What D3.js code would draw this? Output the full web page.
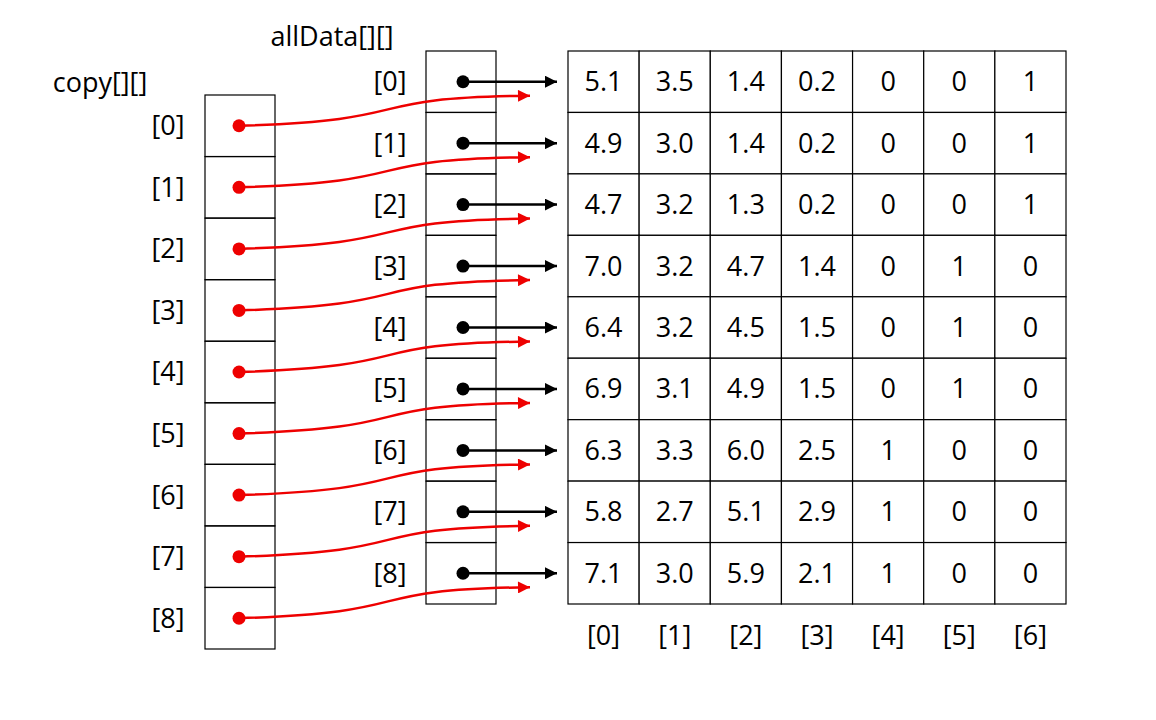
<!DOCTYPE html>
<html><head><meta charset="utf-8">
<script src="https://cdn.jsdelivr.net/npm/d3@7"></script>
<style>body{margin:0;background:#fff}svg{display:block}text{font-family:"Open Sans","Liberation Sans",Arial,sans-serif}</style>
</head><body><svg id="c" width="1156" height="720"></svg>
<script>
const rowLabels = ["[0]","[1]","[2]","[3]","[4]","[5]","[6]","[7]","[8]"];
const colLabels = ["[0]","[1]","[2]","[3]","[4]","[5]","[6]"];
const values = [
 ["5.1","3.5","1.4","0.2","0","0","1"],
 ["4.9","3.0","1.4","0.2","0","0","1"],
 ["4.7","3.2","1.3","0.2","0","0","1"],
 ["7.0","3.2","4.7","1.4","0","1","0"],
 ["6.4","3.2","4.5","1.5","0","1","0"],
 ["6.9","3.1","4.9","1.5","0","1","0"],
 ["6.3","3.3","6.0","2.5","1","0","0"],
 ["5.8","2.7","5.1","2.9","1","0","0"],
 ["7.1","3.0","5.9","2.1","1","0","0"]
];
const svg = d3.select("#c");
const defs = svg.append("defs");
[["ab","#000"],["ar","#e00"]].forEach(([id,c])=>{
  defs.append("marker").attr("id",id).attr("viewBox","0 0 10 10").attr("refX",10).attr("refY",5)
   .attr("markerWidth",16).attr("markerHeight",12).attr("markerUnits","userSpaceOnUse").attr("orient","auto")
   .append("path").attr("d","M0,0L10,5L0,10Z").attr("fill",c);
});
const yA = d3.scaleBand().domain(rowLabels).range([51,604]);
const yC = d3.scaleBand().domain(rowLabels).range([95,649]);
const xT = d3.scaleBand().domain(colLabels).range([568,1066]);
const fs = 27;
values.forEach((row,i)=>row.forEach((v,j)=>{
  const x=xT(colLabels[j]), y=yA(rowLabels[i]);
  svg.append("rect").attr("x",x).attr("y",y).attr("width",xT.bandwidth()).attr("height",yA.bandwidth())
    .attr("fill","#fff").attr("stroke","#000").attr("stroke-width",1.2);
  svg.append("text").attr("x",x+xT.bandwidth()/2).attr("y",y+yA.bandwidth()/2).attr("dy","0.35em")
    .attr("text-anchor","middle").attr("font-size",fs).text(v);
}));
colLabels.forEach(c=>svg.append("text").attr("x",xT(c)+xT.bandwidth()/2).attr("y",636).attr("dy","0.35em")
  .attr("text-anchor","middle").attr("font-size",fs).text(c));
rowLabels.forEach(r=>{
  const y=yA(r);
  svg.append("rect").attr("x",426).attr("y",y).attr("width",70).attr("height",yA.bandwidth()).attr("fill","none").attr("stroke","#000").attr("stroke-width",1.2);
  svg.append("text").attr("x",390).attr("y",y+yA.bandwidth()/2).attr("dy","0.35em").attr("text-anchor","middle").attr("font-size",fs).text(r);
});
rowLabels.forEach(r=>{
  const y=yC(r);
  svg.append("rect").attr("x",205).attr("y",y).attr("width",70).attr("height",yC.bandwidth()).attr("fill","none").attr("stroke","#000").attr("stroke-width",1.2);
  svg.append("text").attr("x",168).attr("y",y+yC.bandwidth()/2).attr("dy","0.35em").attr("text-anchor","middle").attr("font-size",fs).text(r);
});
svg.append("text").attr("x",100).attr("y",83).attr("dy","0.35em").attr("text-anchor","middle").attr("font-size",fs).text("copy[][]");
svg.append("text").attr("x",332).attr("y",37).attr("dy","0.35em").attr("text-anchor","middle").attr("font-size",fs).text("allData[][]");
rowLabels.forEach(r=>{
  const y=yA(r)+yA.bandwidth()/2;
  svg.append("line").attr("x1",463).attr("y1",y).attr("x2",557).attr("y2",y).attr("stroke","#000").attr("stroke-width",2.5).attr("marker-end","url(#ab)");
  svg.append("circle").attr("cx",463).attr("cy",y).attr("r",6.5).attr("fill","#000");
});
rowLabels.forEach(r=>{
  const y0=yC(r)+yC.bandwidth()/2, y1=yA(r)+yA.bandwidth()/2+14;
  svg.append("path").attr("d",`M239,${y0} C430,${y0-6} 350,${y1+2} 530,${y1}`).attr("fill","none")
    .attr("stroke","#e00").attr("stroke-width",2.5).attr("marker-end","url(#ar)");
  svg.append("circle").attr("cx",239).attr("cy",y0).attr("r",6.5).attr("fill","#e00");
});
</script></body></html>
